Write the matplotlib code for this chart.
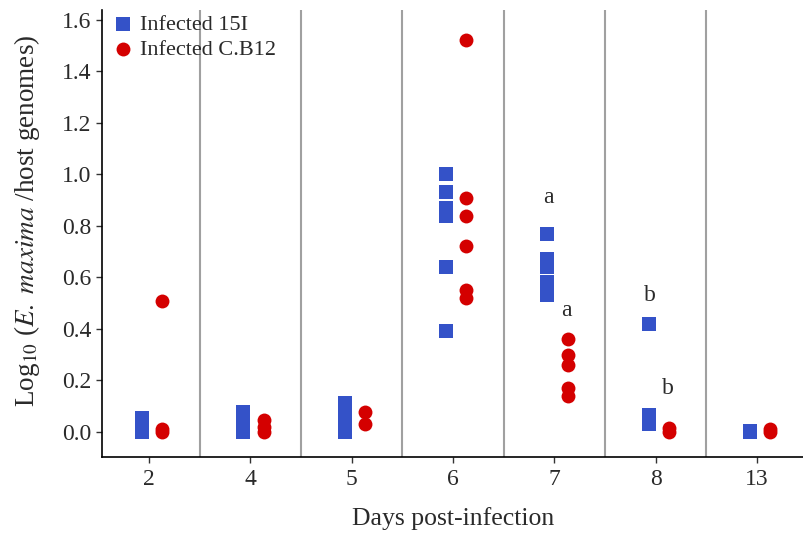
import matplotlib
matplotlib.use("Agg")
import matplotlib.pyplot as plt

plt.rcParams["font.family"] = ["Liberation Serif", "DejaVu Serif"]
plt.rcParams["mathtext.fontset"] = "stix"

# Data
days = ["2", "4", "5", "6", "7", "8", "13"]

strain_15i = [
    [0.0, 0.02, 0.04, 0.055],
    [0.0, 0.02, 0.04, 0.06, 0.075],
    [0.0, 0.03, 0.06, 0.09, 0.11],
    [1.0, 0.93, 0.87, 0.84, 0.64, 0.39],
    [0.77, 0.67, 0.64, 0.58, 0.53],
    [0.42, 0.03, 0.05, 0.065],
    [0.0, 0.005],
]

strain_cb12 = [
    [0.51, 0.01, 0.0],
    [0.0, 0.02, 0.045],
    [0.03, 0.075],
    [1.52, 0.91, 0.84, 0.72, 0.55, 0.52],
    [0.36, 0.30, 0.26, 0.17, 0.14],
    [0.0, 0.015],
    [0.0, 0.01],
]

# significance letters per day index: (y, letter)
letters_15i = {4: (0.91, "a"), 5: (0.53, "b")}
letters_cb12 = {4: (0.47, "a"), 5: (0.17, "b")}

blue = "#3452c8"
red = "#d40000"
text_col = "#2a2a2a"

fig = plt.figure(figsize=(8.04, 5.33), dpi=100)
ax = fig.add_axes([0.127, 0.143, 0.873, 0.839])

for i, (b_vals, r_vals) in enumerate(zip(strain_15i, strain_cb12)):
    ax.scatter([i - 0.07] * len(b_vals), b_vals, marker="s", s=90,
               color=blue, linewidths=0, zorder=3,
               label="Infected 15I" if i == 0 else None)
    ax.scatter([i + 0.13] * len(r_vals), r_vals, marker="o", s=100,
               color=red, linewidths=0, zorder=3,
               label="Infected C.B12" if i == 0 else None)

for i, (y, txt) in letters_15i.items():
    ax.text(i - 0.06, y, txt, ha="center", va="center", fontsize=17, color=text_col)
for i, (y, txt) in letters_cb12.items():
    ax.text(i + 0.12, y, txt, ha="center", va="center", fontsize=17, color=text_col)

for sep in range(len(days) - 1):
    ax.axvline(sep + 0.5, color="#a0a0a0", linewidth=1.5, zorder=1)

ax.set_xlim(-0.465, 6.465)
ax.set_ylim(-0.097, 1.64)
ax.set_xticks(range(len(days)))
ax.set_xticklabels(days)
ax.set_yticks([0.0, 0.2, 0.4, 0.6, 0.8, 1.0, 1.2, 1.4, 1.6])
ax.set_yticklabels(["0.0", "0.2", "0.4", "0.6", "0.8", "1.0", "1.2", "1.4", "1.6"])
ax.tick_params(labelsize=17, length=4, width=1, colors="#333333", labelcolor=text_col)
ax.tick_params(axis="x", pad=5)

ax.spines["top"].set_visible(False)
ax.spines["right"].set_visible(False)
ax.spines["left"].set_linewidth(1.2)
ax.spines["bottom"].set_linewidth(1.2)

ax.set_xlabel("Days post-infection", fontsize=18.5, labelpad=12, color=text_col)
ax.set_ylabel(r"Log$_{10}$ ($\it{E.\ maxima}$ /host genomes)", fontsize=19.5,
              color=text_col)
ax.yaxis.set_label_coords(-0.086, 0.528)

leg = ax.legend(loc="upper left", frameon=False, fontsize=16, handletextpad=0.2,
                borderaxespad=0.2, labelspacing=0.2, handlelength=1.1,
                bbox_to_anchor=(-0.006, 1.02))
for t in leg.get_texts():
    t.set_color(text_col)

fig.savefig("out.png", dpi=100)
